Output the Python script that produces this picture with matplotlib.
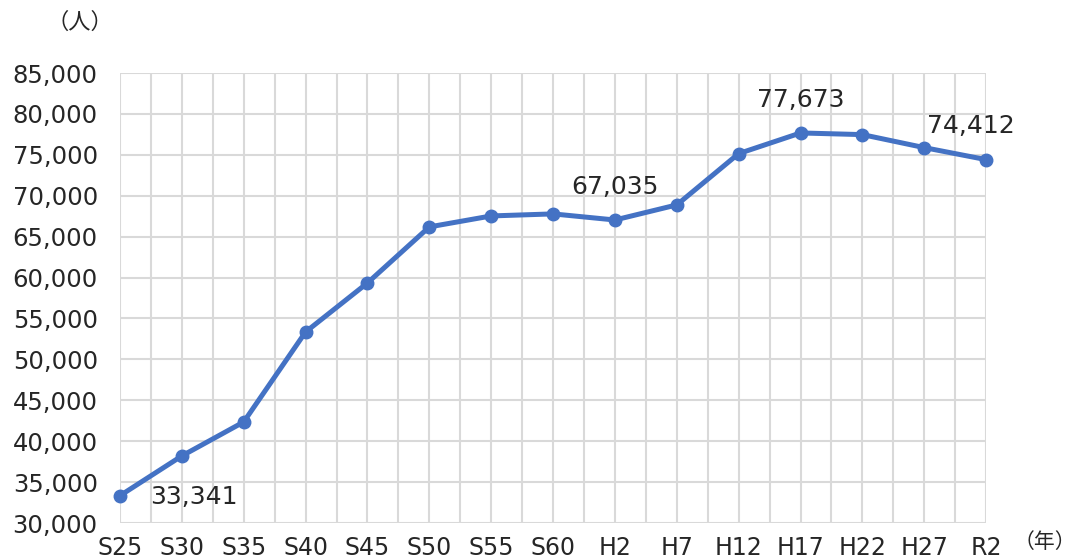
import numpy as np
import matplotlib.pyplot as plt
from matplotlib.ticker import FuncFormatter, MultipleLocator

plt.rcParams['font.family'] = ['DejaVu Sans', 'Noto Sans CJK JP']

years = ["S25", "S30", "S35", "S40", "S45", "S50", "S55", "S60",
         "H2", "H7", "H12", "H17", "H22", "H27", "R2"]
population = [33341, 38200, 42350, 53350, 59340, 66190, 67530, 67780,
              67035, 68880, 75150, 77673, 77470, 75880, 74412]
labelled = {"S25": (53, -1), "H2": (0, 24), "H17": (0, 24), "R2": (-11, 24)}

fig = plt.figure(figsize=(10.76, 5.59), dpi=100)
ax = fig.add_axes([0.1115, 0.0644, 0.805, 0.805])

x = np.arange(len(years))
ax.plot(x, population, color="#4472C4", lw=3.6, marker="o", ms=9,
        clip_on=False, zorder=3)

for name, (dx, dy) in labelled.items():
    i = years.index(name)
    ax.annotate(f"{population[i]:,}", (x[i], population[i]),
                xytext=(dx, dy), textcoords="offset points",
                ha="center", va="center", fontsize=18, color="#262626")

ax.set_xlim(0, len(years) - 1)
ax.set_ylim(30000, 85000)
ax.set_xticks(x)
ax.set_xticklabels(years)
ax.xaxis.set_minor_locator(MultipleLocator(0.5))
ax.yaxis.set_major_locator(MultipleLocator(5000))
ax.yaxis.set_major_formatter(FuncFormatter(lambda v, _: f"{int(v):,}"))

ax.grid(True, which="both", axis="x", color="#D9D9D9", lw=1.5)
ax.grid(True, which="major", axis="y", color="#D9D9D9", lw=1.5)
ax.set_axisbelow(True)
for s in ax.spines.values():
    s.set_visible(False)
ax.tick_params(which="both", length=0)
ax.tick_params(axis="x", pad=9, labelsize=17, labelcolor="#262626")
ax.tick_params(axis="y", pad=16, labelsize=17.5, labelcolor="#262626")

fig.text(80 / 1076, 1 - 22 / 559, "（人）", ha="center", va="center",
         fontsize=16, color="#262626")
fig.text(1045 / 1076, 1 - 542 / 559, "（年）", ha="center", va="center",
         fontsize=15, color="#262626")

fig.savefig("out.png", dpi=100)
